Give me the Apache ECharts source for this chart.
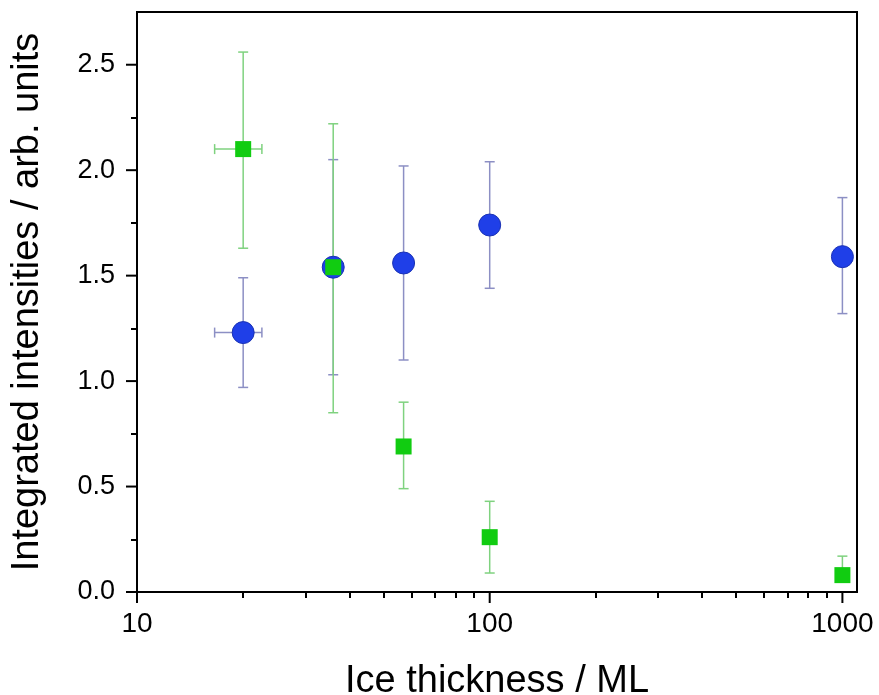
<!DOCTYPE html>
<html>
<head>
<meta charset="utf-8">
<title>Integrated intensities vs ice thickness</title>
<script src="https://cdn.jsdelivr.net/npm/echarts@6/dist/echarts.min.js"></script>
<style>
    html,body{margin:0;padding:0;background:#fff;}
    #main{width:879px;height:695px;}
</style>
</head>
<body>
<div id="main"></div>
<script>
    // data
    var thickness = [20, 36, 57, 100, 1000];
    var blueY    = [1.23, 1.54, 1.56, 1.74, 1.59];
    var blueLow  = [0.97, 1.03, 1.10, 1.44, 1.32];
    var blueHigh = [1.49, 2.05, 2.02, 2.04, 1.87];
    var greenY    = [2.10, 1.54, 0.69, 0.26, 0.08];
    var greenLow  = [1.63, 0.85, 0.49, 0.09, 0.05];
    var greenHigh = [2.56, 2.22, 0.90, 0.43, 0.17];
    // horizontal error of the first point (both series)
    var xErrPoint = [16.6, 22.6];

    var xTicks = [10, 100, 1000];
    var xMinorTicks = [20, 30, 40, 50, 60, 70, 80, 90, 200, 300, 400, 500, 600, 700, 800, 900];
    var yTicks = [0, 0.5, 1.0, 1.5, 2.0, 2.5];
    var yMinorTicks = [0.25, 0.75, 1.25, 1.75, 2.25];

    var FONT = '"Liberation Sans", Arial, sans-serif';
    var X_MIN = 10, X_MAX = 1100;
    var Y_MIN = 0, Y_MAX = 2.75, Y_STEP = 0.5;
    var LX_MIN = Math.log10(X_MIN), LX_MAX = Math.log10(X_MAX);
    var MAJOR_LEN = 11;

    function vErr(color) {
        return function (params, api) {
            var x = api.value(0);
            var top = api.coord([x, api.value(2)]);
            var bot = api.coord([x, api.value(1)]);
            var w = 5;
            var st = {stroke: color, lineWidth: 1.5};
            return {type: 'group', children: [
                {type: 'line', shape: {x1: top[0], y1: top[1], x2: bot[0], y2: bot[1]}, style: st},
                {type: 'line', shape: {x1: top[0] - w, y1: top[1], x2: top[0] + w, y2: top[1]}, style: st},
                {type: 'line', shape: {x1: bot[0] - w, y1: bot[1], x2: bot[0] + w, y2: bot[1]}, style: st}
            ]};
        };
    }
    function hErr(color) {
        return function (params, api) {
            var y = api.value(0);
            var l = api.coord([api.value(1), y]);
            var r = api.coord([api.value(2), y]);
            var h = 5;
            var st = {stroke: color, lineWidth: 1.5};
            return {type: 'group', children: [
                {type: 'line', shape: {x1: l[0], y1: l[1], x2: r[0], y2: r[1]}, style: st},
                {type: 'line', shape: {x1: l[0], y1: l[1] - h, x2: l[0], y2: l[1] + h}, style: st},
                {type: 'line', shape: {x1: r[0], y1: r[1] - h, x2: r[0], y2: r[1] + h}, style: st}
            ]};
        };
    }
    // major tick marks, placed through the axis scales
    function yMajorTick(params, api) {
        var p = api.coord([X_MIN, api.value(1)]);
        return {type: 'line', shape: {x1: p[0] - MAJOR_LEN, y1: p[1], x2: p[0], y2: p[1]},
                style: {stroke: '#000', lineWidth: 2}};
    }
    function xMajorTick(params, api) {
        var p = api.coord([api.value(0), Y_MIN]);
        return {type: 'line', shape: {x1: p[0], y1: p[1], x2: p[0], y2: p[1] + MAJOR_LEN},
                style: {stroke: '#000', lineWidth: 2}};
    }

    // same plot rectangle for every grid; extra grids only carry tick marks
    function gridAt(frame) {
        return {
            left: 137, right: 22, top: 12, bottom: 103, outerBoundsMode: 'none',
            show: frame, borderColor: '#000', borderWidth: 2, backgroundColor: 'transparent'
        };
    }
    function tickAxis(grid, pos, min, max, values, len) {
        return {
            gridIndex: grid, type: 'value', position: pos, min: min, max: max,
            axisLine: {show: false, onZero: false},
            axisTick: {show: true, length: len, customValues: values, lineStyle: {color: '#000', width: 2}},
            axisLabel: {show: false},
            splitLine: {show: false}
        };
    }
    function blankAxis(grid, pos, min, max) {
        return {
            gridIndex: grid, type: 'value', position: pos, min: min, max: max,
            axisLine: {show: false, onZero: false}, axisTick: {show: false},
            axisLabel: {show: false}, splitLine: {show: false}
        };
    }

    var blueErr = thickness.map(function (t, i) { return [t, blueLow[i], blueHigh[i]]; });
    var greenErr = thickness.map(function (t, i) { return [t, greenLow[i], greenHigh[i]]; });
    var bluePts = thickness.map(function (t, i) { return [t, blueY[i]]; });
    var greenPts = thickness.map(function (t, i) { return [t, greenY[i]]; });

    var blueErrColor = '#8c8fc4';
    var greenErrColor = '#7fd27f';

    var dom = document.getElementById('main');
    var myChart = echarts.init(dom);
    var option = {
        animation: false,
        grid: [gridAt(true), gridAt(false), gridAt(false)],
        xAxis: [
            {   // data axis (log) + title
                gridIndex: 0, type: 'log', logBase: 10, min: X_MIN, max: X_MAX, position: 'bottom',
                name: 'Ice thickness / ML', nameLocation: 'middle', nameGap: 71,
                nameTextStyle: {fontFamily: FONT, fontSize: 38, color: '#000'},
                axisLine: {show: true, onZero: false, lineStyle: {color: '#000', width: 2}},
                axisTick: {show: false}, axisLabel: {show: false}, splitLine: {show: false}
            },
            {   // decade labels, in log10 space
                gridIndex: 1, type: 'value', position: 'bottom', min: LX_MIN, max: LX_MAX, interval: 1,
                axisLine: {show: false, onZero: false},
                axisTick: {show: false},
                axisLabel: {
                    margin: 18, showMinLabel: true, showMaxLabel: false,
                    fontFamily: FONT, fontSize: 28, color: '#000',
                    formatter: function (v) { return String(Math.round(Math.pow(10, v))); }
                },
                splitLine: {show: false}
            },
            tickAxis(2, 'bottom', LX_MIN, LX_MAX, xMinorTicks.map(Math.log10), 6)
        ],
        yAxis: [
            {
                gridIndex: 0, type: 'value', position: 'left', min: Y_MIN, max: Y_MAX, interval: Y_STEP,
                name: 'Integrated intensities / arb. units', nameLocation: 'middle', nameGap: 90,
                nameTextStyle: {fontFamily: FONT, fontSize: 38, color: '#000'},
                axisLine: {show: true, onZero: false, lineStyle: {color: '#000', width: 2}},
                axisTick: {show: false},
                axisLabel: {
                    margin: 22, showMinLabel: true, showMaxLabel: false,
                    fontFamily: FONT, fontSize: 27, color: '#000',
                    formatter: function (v) { return v.toFixed(1); }
                },
                splitLine: {show: false}
            },
            blankAxis(1, 'left', Y_MIN, Y_MAX),
            tickAxis(2, 'left', Y_MIN, Y_MAX, yMinorTicks, 6)
        ],
        series: [
            {type: 'scatter', xAxisIndex: 1, yAxisIndex: 1, data: [], silent: true},
            {type: 'scatter', xAxisIndex: 2, yAxisIndex: 2, data: [], silent: true},
            {
                type: 'custom', name: 'y ticks', xAxisIndex: 0, yAxisIndex: 0, silent: true, clip: false,
                renderItem: yMajorTick, data: yTicks.map(function (v) { return [X_MIN, v]; }), z: 5
            },
            {
                type: 'custom', name: 'x ticks', xAxisIndex: 0, yAxisIndex: 0, silent: true, clip: false,
                renderItem: xMajorTick, data: xTicks.map(function (v) { return [v, Y_MIN]; }), z: 5
            },
            {
                type: 'custom', name: 'blue err', xAxisIndex: 0, yAxisIndex: 0,
                renderItem: vErr(blueErrColor), data: blueErr, z: 1
            },
            {
                type: 'custom', name: 'blue xerr', xAxisIndex: 0, yAxisIndex: 0,
                renderItem: hErr(blueErrColor), data: [[blueY[0], xErrPoint[0], xErrPoint[1]]], z: 1
            },
            {
                type: 'custom', name: 'green err', xAxisIndex: 0, yAxisIndex: 0,
                renderItem: vErr(greenErrColor), data: greenErr, z: 2
            },
            {
                type: 'custom', name: 'green xerr', xAxisIndex: 0, yAxisIndex: 0,
                renderItem: hErr(greenErrColor), data: [[greenY[0], xErrPoint[0], xErrPoint[1]]], z: 2
            },
            {
                type: 'scatter', name: 'blue', xAxisIndex: 0, yAxisIndex: 0,
                symbol: 'circle', symbolSize: 22, data: bluePts, z: 3,
                itemStyle: {color: '#1f3fe8', borderColor: '#1a32b4', borderWidth: 1, opacity: 1}
            },
            {
                type: 'scatter', name: 'green', xAxisIndex: 0, yAxisIndex: 0,
                symbol: 'rect', symbolSize: 16, data: greenPts, z: 4,
                itemStyle: {color: '#11cc11', opacity: 1}
            }
        ]
    };
    if (option && typeof option === "object") {
        myChart.setOption(option, true);
    }
</script>
</body>
</html>
